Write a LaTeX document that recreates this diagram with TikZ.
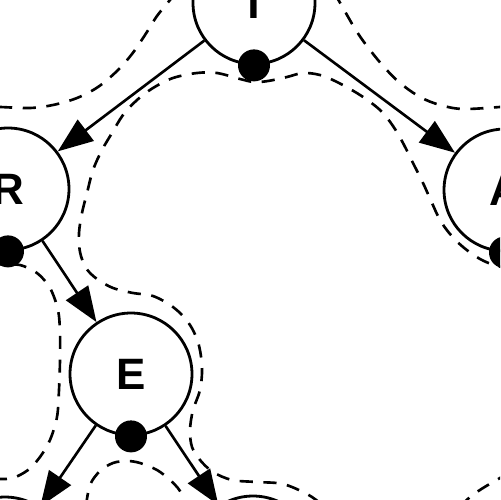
\documentclass[tikz,border=0pt]{standalone}
\usepackage{fontspec}
\setsansfont{Liberation Sans}
\usepackage{tikz}
\usetikzlibrary{arrows.meta}
\definecolor{ink}{RGB}{0,0,0}
\tikzset{
  vertex/.style={circle, draw=ink, line width=1.6pt, fill=white, inner sep=0pt,
                 minimum size=2.44cm, font=\sffamily\bfseries\fontsize{25}{30}\selectfont},
  visit/.style={circle, fill=ink, inner sep=0pt, minimum size=0.64cm},
  edge/.style={-{Triangle[length=20pt,width=15pt]}, ink, line width=1.5pt},
  tour/.style={ink, line width=1.5pt, dash pattern=on 7.5pt off 6pt},
}
\begin{document}
\begin{tikzpicture}[x=0.02cm, y=-0.02cm]
  \useasboundingbox (0,0) rectangle (500,500);
  \clip (0,0) rectangle (500,500);
  % euler tour contour
  \draw[tour] plot[smooth, tension=0.55] coordinates {(176,-8) (170,0) (157,16) (145,35) (132,54) (117,71) (98,87) (77,98) (53,105) (30,108) (0,107) (-10,107)};
  \draw[tour] plot[smooth, tension=0.55] coordinates {(334,-8) (343,8) (357,32) (370,50) (384,67) (400,83) (420,97) (440,105) (463,109) (500,107) (510,106)};
  \draw[tour] plot[smooth, tension=0.55] coordinates {(512,268) (497,266) (480,259) (463,247) (450,234) (440,220) (432,203) (423,183) (413,163) (403,143) (393,126) (380,110) (360,95) (337,82) (320,75) (303,73) (287,77) (268,81) (254,82) (240,79) (217,73) (197,73) (173,78) (153,88) (137,100) (123,115) (112,133) (102,150) (93,170) (87,193) (82,213) (79,233) (80,252) (86,268) (97,279) (113,288) (133,293) (153,296) (173,307) (188,322) (198,342) (202,367) (200,390) (193,410) (190,430) (192,447) (200,460) (213,472) (232,480) (257,482) (283,484) (307,494) (320,503)};
  \draw[tour] plot[smooth, tension=0.55] coordinates {(-10,262) (5,265) (20,265) (37,273) (50,288) (58,310) (60,333) (60,360) (59,390) (57,417) (50,440) (40,457) (28,470) (13,478) (0,479) (-10,479)};
  \draw[tour] plot[smooth, tension=0.55] coordinates {(86,506) (90,485) (100,471) (113,463) (127,461) (140,463) (157,470) (170,480) (180,491) (186,506)};
  \draw[tour] plot[smooth, tension=0.55] coordinates {(460,507) (470,497) (483,488) (500,478) (510,472)};
  % tree
  \node[vertex] (T) at (254,3) {T};
  \node[vertex] (R) at (8,189) {R};
  \node[vertex] (A) at (505,190) {A};
  \node[vertex] (E) at (131,374) {E};
  \node[vertex] (El) at (5,558) {};
  \node[vertex] (Er) at (253,557) {};
  \draw[edge] (T) -- (R);
  \draw[edge] (T) -- (A);
  \draw[edge] (R) -- (E);
  \draw[edge] (E) -- (El);
  \draw[edge] (E) -- (Er);
  \foreach \v in {T,R,A,E}
    \node[visit] (\v d) at (\v.south) {};
\end{tikzpicture}
\end{document}
